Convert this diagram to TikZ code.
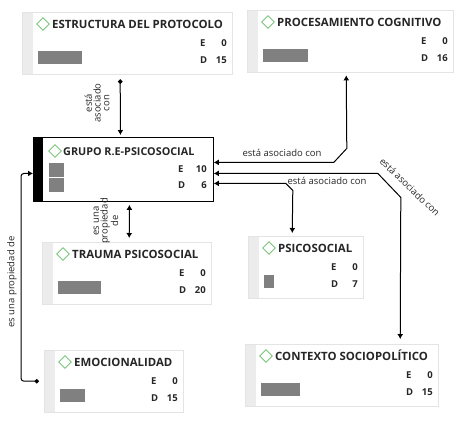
\documentclass[tikz,border=0pt]{standalone}
\usepackage{fontspec}
\setmainfont{Open Sans}
\usetikzlibrary{arrows.meta,shapes.geometric}
\definecolor{boxline}{HTML}{E4E4E4}
\definecolor{band}{HTML}{ECECEC}
\definecolor{bar}{HTML}{808080}
\definecolor{codegreen}{HTML}{7CC67C}
\tikzset{
 codebox/.style={draw=boxline,fill=white,minimum height=62pt,anchor=north west,inner sep=0pt},
 codemark/.style={diamond,draw=codegreen,fill=white,line width=0.9pt,minimum size=13pt,inner sep=0pt},
 ttl/.style={anchor=base west,font=\fontsize{11.4}{13}\selectfont\bfseries,text=black!85,inner sep=0pt},
 freq/.style={font=\fontsize{9.5}{12}\selectfont\bfseries,text=black!85,inner sep=0pt},
 rel/.style={font=\fontsize{9.5}{8.8}\selectfont,text=black!85,inner sep=0pt,align=center},
 link/.style={line width=1pt,>={Latex[length=5pt,width=6pt]}},
}
\begin{document}
\begin{tikzpicture}[x=1pt,y=-1pt]
\useasboundingbox (0,0) rectangle (465,424);
\foreach \n/\x/\y/\w/\t/\e/\d/\b in {estr/22/12/210/ESTRUCTURA DEL PROTOCOLO/0/15/44,proc/247/10/206/PROCESAMIENTO COGNITIVO/0/16/45,trau/42/242/169/TRAUMA PSICOSOCIAL/0/20/43,emoc/44/350/139/EMOCIONALIDAD/0/15/25,psic/248/236/115/PSICOSOCIAL/0/7/10,cont/245/344/193/CONTEXTO SOCIOPOLÍTICO/0/15/39}{
\node[codebox,minimum width=\w pt] (\n) at (\x,\y) {};
\fill[band] (\x+0.5,\y+0.5) rectangle ++(10,61);
\node[codemark] (\n-m) at (\x+21,\y+12) {};
\node[ttl] (\n-t) at (\x+30,\y+16.5) {\t};
\node[freq,anchor=base west] (\n-e) at (\x+\w-32,\y+34.5) {E};
\node[freq,anchor=base west] (\n-d) at (\x+\w-32,\y+51.5) {D};
\node[freq,anchor=base east] (\n-ev) at (\x+\w-5,\y+34.5) {\e};
\node[freq,anchor=base east] (\n-dv) at (\x+\w-5,\y+51.5) {\d};
\fill[bar] (\x+16,\y+39) rectangle ++(\b,13);
}
\node[draw=black,fill=white,line width=0.8pt,minimum width=180pt,minimum height=64pt,anchor=north west,inner sep=0pt] (grupo) at (33,137) {};
\fill (33,137) rectangle (43,201);
\node[codemark] (grupo-m) at (55,151) {};
\node[ttl,font=\fontsize{10.8}{13}\selectfont\bfseries] (grupo-t) at (63,155.5) {GRUPO R.E-PSICOSOCIAL};
\node[freq,anchor=base west] (grupo-e) at (178,172.5) {E};
\node[freq,anchor=base west] (grupo-d) at (178,188.5) {D};
\node[freq,anchor=base east] (grupo-ev) at (207,172.5) {10};
\node[freq,anchor=base east] (grupo-dv) at (207,188.5) {6};
\fill[bar] (49,163) rectangle (64,177);
\fill[bar] (49,178) rectangle (64,192);
\draw[link,<->,shorten >=3pt] ([yshift=7pt]grupo.east) -- ++(120,0) -- ++(13,-14) -- ([xshift=-4pt]proc.south);
\draw[link,<->,shorten >=5pt] ([yshift=-4pt]grupo.east) -- ++(164,0) -- ++(23,24) -- ([xshift=58.5pt]cont.north);
\draw[link,<->,shorten >=3pt] ([yshift=-14pt]grupo.east) -- ++(72,0) -- ++(7,7) -- ([xshift=-13.5pt]psic.north);
\draw[link,{Circle[length=4.5pt]}->,shorten >=2pt] ([xshift=-7pt,yshift=-5pt]estr.south) -- ([xshift=-3pt]grupo.north);
\draw[link,<->,shorten <=3pt,shorten >=4pt] ([xshift=6pt]grupo.south) -- ([xshift=2.5pt]trau.north);
\draw[link,rounded corners=3pt,{Circle[length=4.5pt]}->] ([xshift=-5pt]emoc.west) -- ++(-18,0) |- ([yshift=-4pt]grupo.west);
\node[rel,rotate=90] (l-estr) at (97,103) {está\\asociado\\con};
\node[rel] (l-proc) at (282,153) {está asociado con};
\node[rel,rotate=-44] (l-cont) at (410,187) {está asociado con};
\node[rel] (l-psic) at (327,181) {está asociado con};
\node[rel,rotate=90] (l-trau) at (106,221) {es una\\propiedad\\de};
\node[rel,rotate=90] (l-emoc) at (12,282) {es una propiedad de};
\end{tikzpicture}
\end{document}
